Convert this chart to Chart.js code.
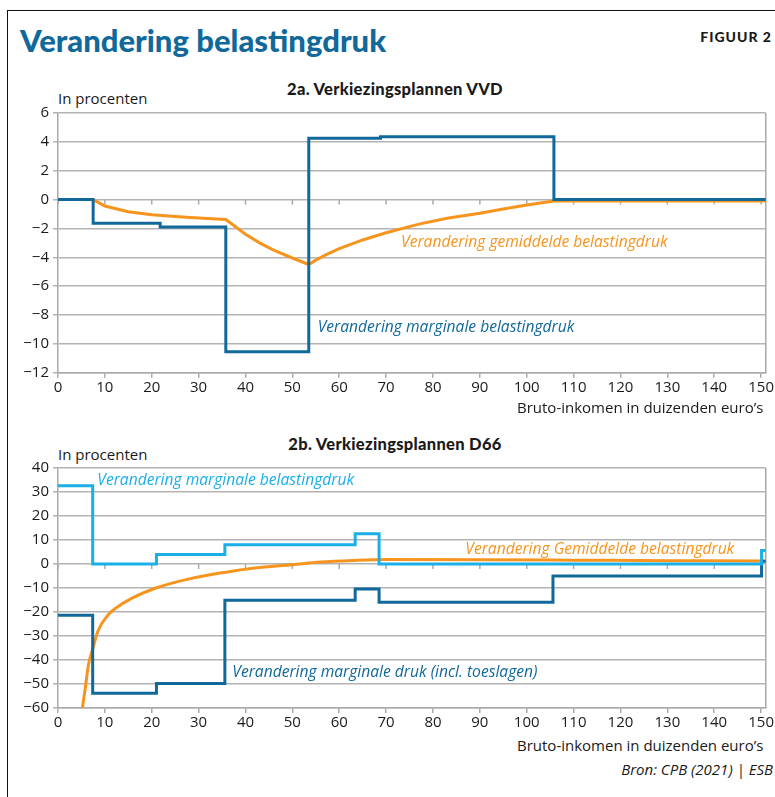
<!DOCTYPE html>
<html>
<head>
<meta charset="utf-8">
<script src="https://cdn.jsdelivr.net/npm/chart.js@4/dist/chart.umd.min.js"></script>
<style>
  html, body { margin: 0; padding: 0; background: #fff; }
  body { width: 775px; height: 797px; position: relative; overflow: hidden; font-family: "Open Sans", sans-serif; color: #1a1a1a; }
  .t { position: absolute; white-space: nowrap; line-height: 1; }
  canvas { position: absolute; left: 0; }
</style>
</head>
<body>
<div style="position:absolute;left:7px;top:10px;width:770px;height:0;border-top:1.5px solid #111"></div>
<div style="position:absolute;left:7px;top:10px;width:0;height:790px;border-left:1.5px solid #111"></div>

<div class="t" id="title" style="left:20px;top:24.5px;font-family:Lato;font-weight:900;font-size:31px;color:#10699a">Verandering belastingdruk</div>
<div class="t" style="right:3px;top:30px;font-family:Lato;font-weight:900;font-size:14px;letter-spacing:1px">FIGUUR 2</div>

<div class="t" style="left:395px;top:80.5px;transform:translateX(-50%);font-family:Lato;font-weight:900;font-size:16.5px;letter-spacing:0.3px">2a. Verkiezingsplannen VVD</div>
<div class="t" style="left:58px;top:90.7px;font-size:15px">In procenten</div>
<canvas id="c1" width="775" height="300" style="top:100px"></canvas>
<div class="t" style="left:517px;top:399.7px;font-size:15px">Bruto-inkomen in duizenden euro’s</div>

<div class="t" style="left:395px;top:436px;transform:translateX(-50%);font-family:Lato;font-weight:900;font-size:16.5px;letter-spacing:0.3px">2b. Verkiezingsplannen D66</div>
<div class="t" style="left:58px;top:446.7px;font-size:15px">In procenten</div>
<canvas id="c2" width="775" height="280" style="top:455px"></canvas>
<div class="t" style="left:517px;top:738.4px;font-size:15px">Bruto-inkomen in duizenden euro’s</div>

<div class="t" style="right:2px;top:761.7px;font-size:15px;font-style:italic">Bron: CPB (2021) | ESB</div>

<script>
// kleuren
const donkerblauw = '#11699b';
const lichtblauw = '#1bafe8';
const oranje = '#f7941d';

// 2a VVD: marginale druk (trap) en gemiddelde druk
const vvdMargX = [0, 7.5, 21.8, 35.8, 53.5, 68.8, 105.8, 151];
const vvdMargY = [0, -1.65, -1.9, -10.55, 4.25, 4.35, 0, 0];
const vvdGemX = [0, 7.5, 10, 15, 20, 25, 30, 35.8, 40, 43, 46, 50, 53.5, 55, 57, 60, 65, 70, 77, 83, 90, 95, 100, 105.8, 151];
const vvdGemY = [0, 0, -0.45, -0.85, -1.05, -1.18, -1.28, -1.38, -2.4, -3.0, -3.5, -4.05, -4.5, -4.2, -3.85, -3.4, -2.8, -2.3, -1.7, -1.3, -0.95, -0.65, -0.38, -0.1, -0.1];

// 2b D66
const d66MargX = [0, 7.4, 21, 35.6, 63.4, 68.5, 150.1, 151];
const d66MargY = [32.6, 0, 4, 8, 12.6, 0, 5.6, 5.6];
const d66ToeslX = [0, 7.4, 21, 35.6, 63.4, 68.5, 105.6, 150.1, 151];
const d66ToeslY = [-21.4, -53.9, -49.8, -15.1, -10.4, -15.9, -5, 1.1, 1.1];
const d66GemX = [5.2, 5.8, 6.5, 7.4, 8.5, 10.6, 12.4, 15.9, 20.9, 28, 35.5, 42, 50, 56, 63, 70, 90, 110, 130, 151];
const d66GemY = [-60, -52, -42, -35.5, -28, -21.4, -18.3, -14.1, -10, -6.2, -3.5, -1.7, -0.3, 0.8, 1.5, 1.9, 1.8, 1.6, 1.4, 1.2];

// x-as
const xMin = 0, xMax = 151, xStap = 10;

function punten(xs, ys) {
  return xs.map((x, i) => ({ x: x, y: ys[i] }));
}

// tekstlabels in de grafiek, ankers in data-eenheden
const vvdLabels = [
  { text: 'Verandering gemiddelde belastingdruk', x: 73.2, y: -3.0, color: oranje },
  { text: 'Verandering marginale belastingdruk', x: 55.4, y: -8.9, color: donkerblauw }
];
const d66Labels = [
  { text: 'Verandering marginale belastingdruk', x: 8.4, y: 34.8, color: lichtblauw },
  { text: 'Verandering Gemiddelde belastingdruk', x: 86.9, y: 6.2, color: oranje },
  { text: 'Verandering marginale druk (incl. toeslagen)', x: 37.2, y: -45.2, color: donkerblauw }
];

const decor = {
  id: 'decor',
  beforeDatasetsDraw(chart) {
    const ctx = chart.ctx;
    const a = chart.chartArea;
    const xs = chart.scales.x, ys = chart.scales.y;
    ctx.save();
    ctx.strokeStyle = '#aaaaaa';
    ctx.lineWidth = 1.5;
    // rechterrand
    ctx.beginPath();
    ctx.moveTo(a.right, a.top);
    ctx.lineTo(a.right, a.bottom);
    ctx.stroke();
    // streepjes onder de nullijn
    const y0 = ys.getPixelForValue(0);
    for (let v = xMin; v <= xMax; v += xStap) {
      const px = xs.getPixelForValue(v);
      ctx.beginPath();
      ctx.moveTo(px, y0);
      ctx.lineTo(px, y0 + 5);
      ctx.stroke();
    }
    ctx.restore();
  },
  afterDatasetsDraw(chart, args, opts) {
    const ctx = chart.ctx;
    const xs = chart.scales.x, ys = chart.scales.y;
    ctx.save();
    ctx.font = 'italic 15.6px "Open Sans"';
    ctx.textBaseline = 'middle';
    ctx.textAlign = 'left';
    (opts.labels || []).forEach(l => {
      ctx.fillStyle = l.color;
      ctx.fillText(l.text, xs.getPixelForValue(l.x), ys.getPixelForValue(l.y));
    });
    ctx.restore();
  }
};

function maakPaneel(id, datasets, yMin, yMax, yStap, paddingTop, xHoogte, labels) {
  const ctx = document.getElementById(id).getContext('2d');
  return new Chart(ctx, {
    type: 'line',
    data: { datasets: datasets },
    plugins: [decor],
    options: {
      responsive: false,
      animation: false,
      devicePixelRatio: 1,
      layout: { autoPadding: false, padding: { top: paddingTop, right: 6, left: 0, bottom: 0 } },
      elements: { point: { radius: 0 } },
      plugins: {
        legend: { display: false },
        tooltip: { enabled: false },
        decor: { labels: labels }
      },
      scales: {
        x: {
          type: 'linear',
          min: xMin,
          max: xMax,
          afterFit: s => { s.height = xHoogte; },
          ticks: { stepSize: xStap, includeBounds: false, maxRotation: 0, padding: 1, color: '#1a1a1a', font: { family: 'Open Sans', size: 15 } },
          grid: { drawOnChartArea: false, drawTicks: true, tickLength: 5, color: '#aaaaaa', lineWidth: 1.5 },
          border: { display: true, color: '#aaaaaa', width: 1.5 }
        },
        y: {
          min: yMin,
          max: yMax,
          afterFit: s => { s.width = 58; },
          ticks: {
            stepSize: yStap,
            padding: 4,
            color: '#1a1a1a',
            font: { family: 'Open Sans', size: 15 },
            callback: v => String(v).replace('-', '\u2212')
          },
          grid: { color: '#b3b3b3', lineWidth: 1.5, tickLength: 5 },
          border: { display: true, color: '#aaaaaa', width: 1.5 }
        }
      }
    }
  });
}

function trap(label, xs, ys, kleur) {
  return { label: label, data: punten(xs, ys), borderColor: kleur, borderWidth: 3, stepped: 'before', fill: false };
}

maakPaneel('c1', [
  trap('Marginaal', vvdMargX, vvdMargY, donkerblauw),
  { label: 'Gemiddeld', data: punten(vvdGemX, vvdGemY), borderColor: oranje, borderWidth: 3, tension: 0, fill: false }
], -12, 6, 2, 11.7, 27.3, vvdLabels);

maakPaneel('c2', [
  trap('Marginaal', d66MargX, d66MargY, lichtblauw),
  trap('Marginaal incl. toeslagen', d66ToeslX, d66ToeslY, donkerblauw),
  { label: 'Gemiddeld', data: punten(d66GemX, d66GemY), borderColor: oranje, borderWidth: 3, cubicInterpolationMode: 'monotone', fill: false }
], -60, 40, 10, 12, 27, d66Labels);
</script>
</body>
</html>
